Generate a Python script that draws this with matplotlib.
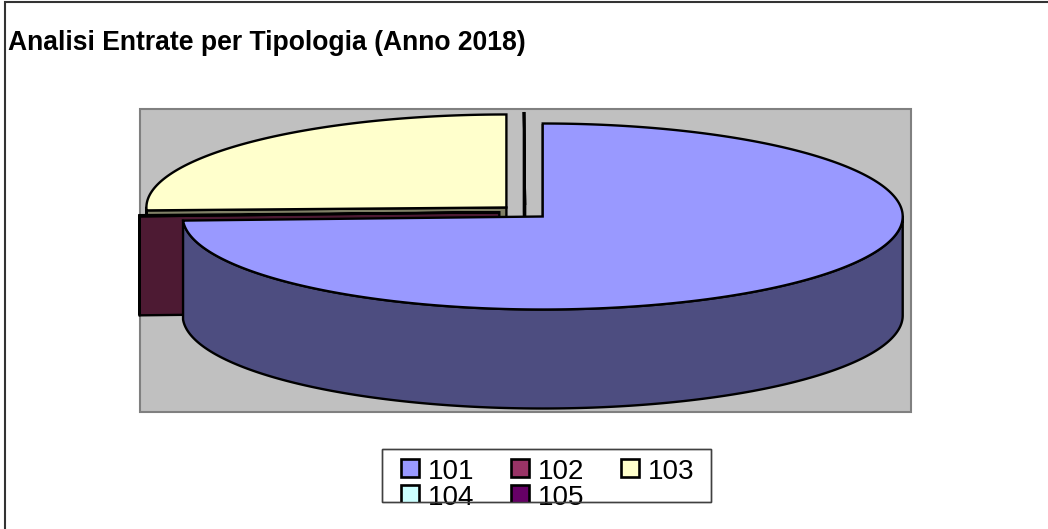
import numpy as np
import matplotlib
matplotlib.use("Agg")
import matplotlib.pyplot as plt
from matplotlib.patches import Rectangle, Polygon

plt.rcParams['font.family'] = ['Liberation Sans', 'DejaVu Sans']

title = "Analisi Entrate per Tipologia (Anno 2018)"
labels = ["101", "102", "103", "104", "105"]
shares = [74.3, 0.2, 25.5, 0.0, 0.0]
top_colors = ["#9999ff", "#993366", "#ffffcc", "#ccffff", "#660066"]
side_colors = ["#4d4d80", "#4d1a33", "#808066", "#668080", "#330033"]

W, H = 1048, 529
CX, CY = 524.5, 212      # pie centre
RX, RY = 360, 93
DEPTH = 99
EXPLODE = 0.07
LW = 1.7

fig = plt.figure(figsize=(W / 100, H / 100), dpi=100)
ax = fig.add_axes([0, 0, 1, 1])
ax.set_xlim(0, W)
ax.set_ylim(H, 0)
ax.axis("off")

# frame: only top and left are in the picture
ax.plot([5, 5, W], [H, 2, 2], color="#333333", lw=1.5, solid_joinstyle="miter")
ax.add_patch(Rectangle((139.5, 108.5), 771, 303, fc="#c0c0c0", ec="#808080", lw=1.5))
ax.text(8, 50, title, fontsize=19.1, fontweight="bold", va="baseline", ha="left")


def ell(cx, cy, a):
    # a is clockwise from 12 o'clock, degrees
    r = np.radians(a)
    return cx + RX * np.sin(r), cy - RY * np.cos(r)


ends = np.cumsum(shares) * 3.6
starts = ends - np.array(shares) * 3.6

# back to front: last slices first
for i in range(len(shares) - 1, -1, -1):
    a0, a1 = starts[i], ends[i]
    mid = (a0 + a1) / 2
    r = np.radians(mid)
    cx = CX + EXPLODE * RX * np.sin(r)
    cy = CY - EXPLODE * RY * np.cos(r)

    # radial side seen from the front
    x0, y0 = ell(cx, cy, a0)
    ax.add_patch(Polygon([(cx, cy), (x0, y0), (x0, y0 + DEPTH), (cx, cy + DEPTH)],
                         closed=True, fc=side_colors[i], ec="black", lw=LW, joinstyle="miter"))

    # outer wall, only the part facing the viewer
    w0, w1 = max(a0, 90), min(a1, 270)
    if w1 > w0:
        t = np.linspace(w0, w1, 200)
        xs, ys = ell(cx, cy, t)
        wall = list(zip(xs, ys)) + list(zip(xs[::-1], ys[::-1] + DEPTH))
        ax.add_patch(Polygon(wall, closed=True, fc=side_colors[i], ec="black", lw=LW, joinstyle="round"))

    # top face
    t = np.linspace(a0, a1, 300)
    xs, ys = ell(cx, cy, t)
    top = [(cx, cy)] + list(zip(xs, ys))
    ax.add_patch(Polygon(top, closed=True, fc=top_colors[i], ec="black", lw=LW, joinstyle="miter"))

# legend, second row runs past the bottom of the box as in the original
box = Rectangle((381.5, 449), 329.5, 53, fc="white", ec="#404040", lw=1, zorder=5)
ax.add_patch(box)
for i, lab in enumerate(labels):
    col, row = i % 3, i // 3
    x = 401 + 110 * col
    y = 458.5 + 26 * row
    sw = Rectangle((x, y), 18, 18, fc=top_colors[i], ec="black", lw=1.9, zorder=6)
    ax.add_patch(sw)
    sw.set_clip_path(box)
    txt = ax.text(x + 27, y + 20.5, lab, fontsize=20, va="baseline", ha="left", zorder=6)
    txt.set_clip_path(box)

ax.add_patch(Rectangle((381.5, 449), 329.5, 53, fc="none", ec="#404040", lw=1, zorder=7))

fig.savefig("out.png", dpi=100)
